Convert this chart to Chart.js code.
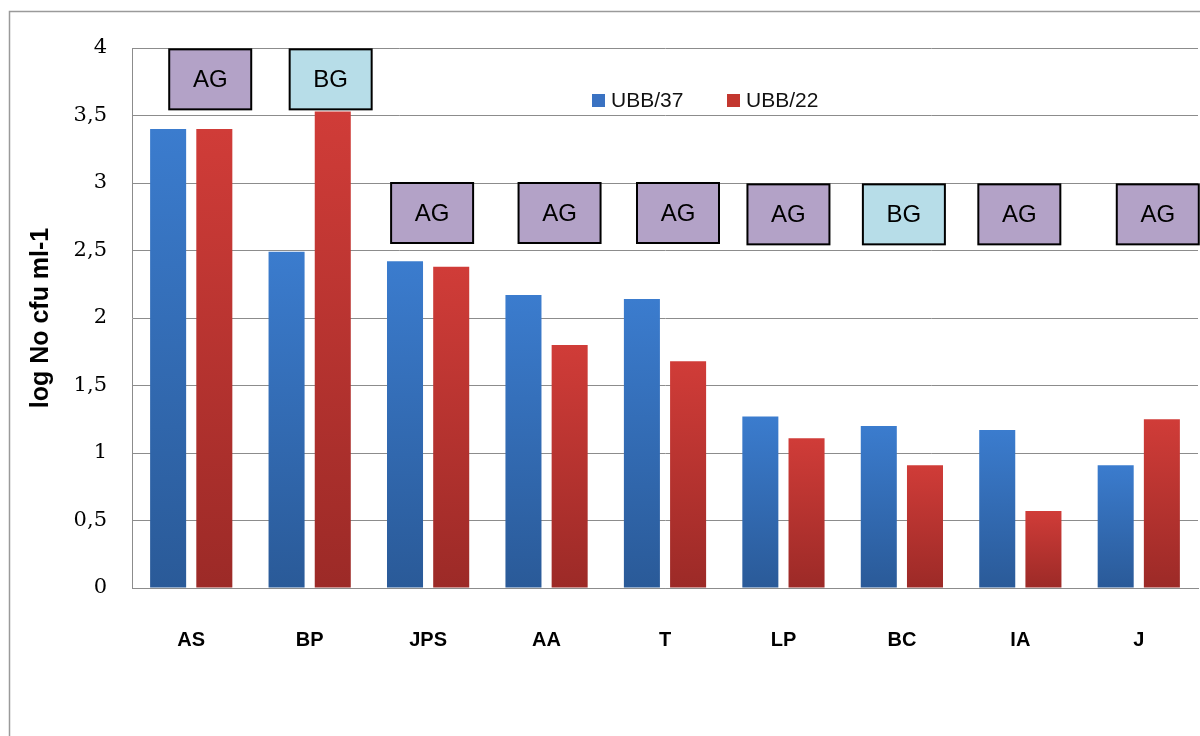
<!DOCTYPE html>
<html>
<head>
<meta charset="utf-8">
<script src="https://cdn.jsdelivr.net/npm/chart.js@4"></script>
<style>
  html, body { margin: 0; padding: 0; background: #fff; overflow: hidden; }
  #wrap { position: relative; width: 1200px; height: 736px; }
</style>
</head>
<body>
<div id="wrap"><canvas id="chart"></canvas></div>
<script>
// Data
const categories = ['AS', 'BP', 'JPS', 'AA', 'T', 'LP', 'BC', 'IA', 'J'];
const ubb37 = [3.40, 2.49, 2.42, 2.17, 2.14, 1.27, 1.20, 1.17, 0.91];
const ubb22 = [3.40, 3.53, 2.38, 1.80, 1.68, 1.11, 0.91, 0.57, 1.25];
const groups = ['AG', 'BG', 'AG', 'AG', 'AG', 'AG', 'BG', 'AG', 'AG'];
const yTicks = [0, 0.5, 1, 1.5, 2, 2.5, 3, 3.5, 4];

// Where the group boxes sit (layout only)
const boxTop = [3.99, 3.99, 3.0, 3.0, 3.0, 2.99, 2.99, 2.99, 2.99];
const boxShift = [19, 21, 4, 13, 13, 5, 2, -1, 19];
const boxFill = { AG: '#b3a2c7', BG: '#b7dde8' };

const blue = ['#3b7cce', '#2a5a98'];
const red = ['#d03c38', '#9c2a27'];

// vertical gradient per bar, from its top down to zero
function barGradient(colors) {
    return function (c) {
        const chart = c.chart;
        if (c.type !== 'data' || !chart.chartArea) return colors[0];
        const y = chart.scales.y;
        const top = y.getPixelForValue(c.raw);
        const bottom = y.getPixelForValue(0);
        const g = chart.ctx.createLinearGradient(0, top, 0, bottom);
        g.addColorStop(0, colors[0]);
        g.addColorStop(1, colors[1]);
        return g;
    };
}

const extras = {
    id: 'extras',
    beforeDraw(chart) {
        const ctx = chart.ctx;
        ctx.save();
        ctx.strokeStyle = '#9a9a9a';
        ctx.lineWidth = 1.5;
        ctx.strokeRect(9.5, 11.5, 1400, 900);
        ctx.restore();
    },
    afterDatasetsDraw(chart) {
        const ctx = chart.ctx;
        const x = chart.scales.x;
        const y = chart.scales.y;
        ctx.save();
        // group boxes
        ctx.font = '24px "Liberation Sans"';
        ctx.textAlign = 'center';
        ctx.textBaseline = 'middle';
        groups.forEach((g, i) => {
            const cx = x.getPixelForValue(i) + boxShift[i];
            const top = y.getPixelForValue(boxTop[i]);
            const w = 82, h = 60;
            ctx.fillStyle = boxFill[g];
            ctx.fillRect(cx - w / 2, top, w, h);
            ctx.strokeStyle = '#000';
            ctx.lineWidth = 2;
            ctx.strokeRect(cx - w / 2, top, w, h);
            ctx.fillStyle = '#000';
            ctx.fillText(g, cx, top + h / 2 + 1);
        });
        // legend
        ctx.font = '21px "Liberation Sans"';
        ctx.textAlign = 'left';
        const items = [
            { label: chart.data.datasets[0].label, color: '#3a72c2', x: 592 },
            { label: chart.data.datasets[1].label, color: '#c3372f', x: 727 }
        ];
        items.forEach(it => {
            ctx.fillStyle = it.color;
            ctx.fillRect(it.x, 94, 13, 13);
            ctx.fillStyle = '#111';
            ctx.fillText(it.label, it.x + 19, 101);
        });
        ctx.restore();
    }
};

const chart = new Chart(document.getElementById('chart'), {
    type: 'bar',
    data: {
        labels: categories,
        datasets: [
            {
                label: 'UBB/37',
                data: ubb37,
                backgroundColor: barGradient(blue),
                categoryPercentage: 0.78,
                barPercentage: 0.78
            },
            {
                label: 'UBB/22',
                data: ubb22,
                backgroundColor: barGradient(red),
                categoryPercentage: 0.78,
                barPercentage: 0.78
            }
        ]
    },
    options: {
        responsive: true,
        maintainAspectRatio: false,
        animation: false,
        layout: { padding: { left: 0, right: 2, top: 48, bottom: 0 } },
        plugins: {
            legend: { display: false },
            tooltip: { enabled: false }
        },
        scales: {
            x: {
                grid: { display: false },
                border: { color: '#8c8c8c', width: 1 },
                ticks: {
                    color: '#000',
                    padding: 32,
                    font: { family: '"Liberation Sans"', size: 20, weight: 'bold' }
                },
                afterFit(s) { s.height = 148; }
            },
            y: {
                min: 0,
                max: 4,
                afterBuildTicks(s) { s.ticks = yTicks.map(v => ({ value: v })); },
                grid: { color: '#8c8c8c', lineWidth: 1, drawTicks: false },
                border: { color: '#8c8c8c', width: 1 },
                ticks: {
                    color: '#000',
                    padding: 25,
                    font: { family: '"DejaVu Serif"', size: 21 },
                    callback: v => String(v).replace('.', ',')
                },
                title: {
                    display: true,
                    text: 'log No cfu ml-1',
                    color: '#000',
                    padding: { top: 26, bottom: 0 },
                    font: { family: '"Liberation Sans"', size: 25, weight: 'bold' }
                },
                afterFit(s) { s.width = 132; }
            }
        }
    },
    plugins: [extras]
});
</script>
</body>
</html>
